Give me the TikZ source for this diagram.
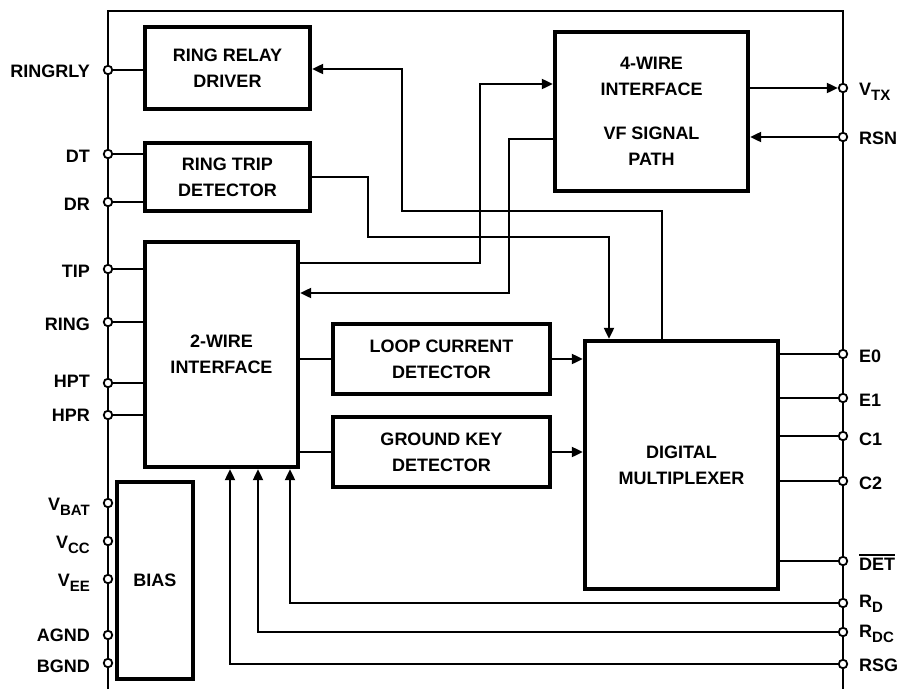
\documentclass[tikz,border=0pt]{standalone}
\usepackage{fontspec}
\setmainfont{Liberation Sans}
\usetikzlibrary{arrows.meta}
\newcommand{\lsub}[1]{\raisebox{-0.3em}{\fontsize{15}{15}\selectfont #1}}
\newcommand{\obar}[1]{\vbox{\hrule height 1.6pt \kern 1.6pt \hbox{#1}}}
\begin{document}
\begin{tikzpicture}[x=1pt,y=-1pt,
  every node/.style={font=\fontsize{18}{26}\selectfont\bfseries},
  blk/.style={draw, line width=4.3pt, align=center, inner sep=0pt},
  pinc/.style={circle, draw, fill=white, line width=1.8pt, inner sep=0pt, minimum size=8.5pt},
  wire/.style={line width=2pt},
  arr/.style={wire, -{Triangle[length=11pt,width=10pt]}},
  frame/.style={line width=1.8pt},
  lbl/.style={inner sep=0pt}]
\useasboundingbox (0,0) rectangle (898,689);
% frame
\coordinate (fbl) at (108,689);
\coordinate (ftl) at (108,11);
\coordinate (ftr) at (843,11);
\coordinate (fbr) at (843,689);
\draw[frame] (fbl) -- (ftl) -- (ftr) -- (fbr);
% blocks
\node[blk, minimum width=165pt, minimum height=82pt] (rrd) at (227.5,68) {RING RELAY\\DRIVER};
\node[blk, minimum width=165pt, minimum height=68pt] (rtd) at (227.5,177) {RING TRIP\\DETECTOR};
\node[blk, minimum width=153pt, minimum height=225pt] (tw) at (221.5,354.5) {2-WIRE\\INTERFACE};
\node[blk, minimum width=193pt, minimum height=159pt] (fw) at (651.5,111.5) {4-WIRE\\INTERFACE\\[18pt]VF SIGNAL\\PATH};
\node[blk, minimum width=217pt, minimum height=70pt] (lcd) at (441.5,359) {LOOP CURRENT\\DETECTOR};
\node[blk, minimum width=217pt, minimum height=70pt] (gkd) at (441.5,452) {GROUND KEY\\DETECTOR};
\node[blk, minimum width=193pt, minimum height=248pt] (dm) at (681.5,465) {DIGITAL\\MULTIPLEXER};
\node[blk, minimum width=76pt, minimum height=197pt] (bias) at (155,580.5) {BIAS};
% left pins
\node[pinc] (pRINGRLY) at (108,70) {};
\node[pinc] (pDT) at (108,154) {};
\node[pinc] (pDR) at (108,202) {};
\node[pinc] (pTIP) at (108,269) {};
\node[pinc] (pRING) at (108,322) {};
\node[pinc] (pHPT) at (108,383) {};
\node[pinc] (pHPR) at (108,415) {};
\node[pinc] (pVBAT) at (108,503) {};
\node[pinc] (pVCC) at (108,541) {};
\node[pinc] (pVEE) at (108,579) {};
\node[pinc] (pAGND) at (108,635) {};
\node[pinc] (pBGND) at (108,663) {};
% right pins
\node[pinc] (pVTX) at (843,88) {};
\node[pinc] (pRSN) at (843,137) {};
\node[pinc] (pE0) at (843,354) {};
\node[pinc] (pE1) at (843,398) {};
\node[pinc] (pC1) at (843,436) {};
\node[pinc] (pC2) at (843,481) {};
\node[pinc] (pDET) at (843,561) {};
\node[pinc] (pRD) at (843,603) {};
\node[pinc] (pRDC) at (843,632) {};
\node[pinc] (pRSG) at (843,664) {};
% left labels
\node[lbl, anchor=base east] (tRINGRLY) at (90,77) {RINGRLY};
\node[lbl, anchor=base east] (tDT) at (90,162) {DT};
\node[lbl, anchor=base east] (tDR) at (90,210) {DR};
\node[lbl, anchor=base east] (tTIP) at (90,277) {TIP};
\node[lbl, anchor=base east] (tRING) at (90,330) {RING};
\node[lbl, anchor=base east] (tHPT) at (90,387) {HPT};
\node[lbl, anchor=base east] (tHPR) at (90,421) {HPR};
\node[lbl, anchor=base east] (tVBAT) at (90,510) {V\lsub{BAT}};
\node[lbl, anchor=base east] (tVCC) at (90,548) {V\lsub{CC}};
\node[lbl, anchor=base east] (tVEE) at (90,586) {V\lsub{EE}};
\node[lbl, anchor=base east] (tAGND) at (90,641) {AGND};
\node[lbl, anchor=base east] (tBGND) at (90,672) {BGND};
% right labels
\node[lbl, anchor=base west] (tVTX) at (859,95) {V\lsub{TX}};
\node[lbl, anchor=base west] (tRSN) at (859,144) {RSN};
\node[lbl, anchor=base west] (tE0) at (859,362) {E0};
\node[lbl, anchor=base west] (tE1) at (859,406) {E1};
\node[lbl, anchor=base west] (tC1) at (859,445) {C1};
\node[lbl, anchor=base west] (tC2) at (859,489) {C2};
\node[lbl, anchor=base west] (tDET) at (859,570) {\obar{DET}};
\node[lbl, anchor=base west] (tRD) at (859,607) {R\lsub{D}};
\node[lbl, anchor=base west] (tRDC) at (859,637) {R\lsub{DC}};
\node[lbl, anchor=base west] (tRSG) at (859,671) {RSG};
% pin wires left
\draw[wire] (pRINGRLY) -- (rrd.west |- pRINGRLY);
\draw[wire] (pDT) -- (rtd.west |- pDT);
\draw[wire] (pDR) -- (rtd.west |- pDR);
\draw[wire] (pTIP) -- (tw.west |- pTIP);
\draw[wire] (pRING) -- (tw.west |- pRING);
\draw[wire] (pHPT) -- (tw.west |- pHPT);
\draw[wire] (pHPR) -- (tw.west |- pHPR);
% DM -> ring relay driver
\coordinate (k1) at (662,211);
\coordinate (k2) at (402,211);
\coordinate (k3) at (402,69);
\draw[arr] (dm.north -| k1) -- (k1) -- (k2) -- (k3) -- (rrd.east |- k3);
% ring trip detector -> DM
\coordinate (m1) at (368,177);
\coordinate (m2) at (368,237);
\coordinate (m3) at (609,237);
\draw[arr] (rtd.east |- m1) -- (m1) -- (m2) -- (m3) -- (dm.north -| m3);
% 2-wire -> 4-wire
\coordinate (n1) at (480,263);
\coordinate (n2) at (480,84);
\draw[arr] (tw.east |- n1) -- (n1) -- (n2) -- (fw.west |- n2);
% 4-wire -> 2-wire
\coordinate (q1) at (509,139);
\coordinate (q2) at (509,293);
\draw[arr] (fw.west |- q1) -- (q1) -- (q2) -- (tw.east |- q2);
% 2-wire -> detectors
\draw[wire] (tw.east |- lcd.west) -- (lcd.west);
\draw[wire] (tw.east |- gkd.west) -- (gkd.west);
\draw[arr] (lcd.east) -- (dm.west |- lcd.east);
\draw[arr] (gkd.east) -- (dm.west |- gkd.east);
% 4-wire pins
\draw[arr] (fw.east |- pVTX) -- (pVTX);
\draw[arr] (pRSN) -- (fw.east |- pRSN);
% DM pins
\draw[wire] (dm.east |- pE0) -- (pE0);
\draw[wire] (dm.east |- pE1) -- (pE1);
\draw[wire] (dm.east |- pC1) -- (pC1);
\draw[wire] (dm.east |- pC2) -- (pC2);
\draw[wire] (dm.east |- pDET) -- (pDET);
% resistor pins -> 2-wire
\coordinate (r1) at (290,603);
\coordinate (r2) at (258,632);
\coordinate (r3) at (230,664);
\draw[arr] (pRD) -- (r1) -- (tw.south -| r1);
\draw[arr] (pRDC) -- (r2) -- (tw.south -| r2);
\draw[arr] (pRSG) -- (r3) -- (tw.south -| r3);
\end{tikzpicture}
\end{document}
